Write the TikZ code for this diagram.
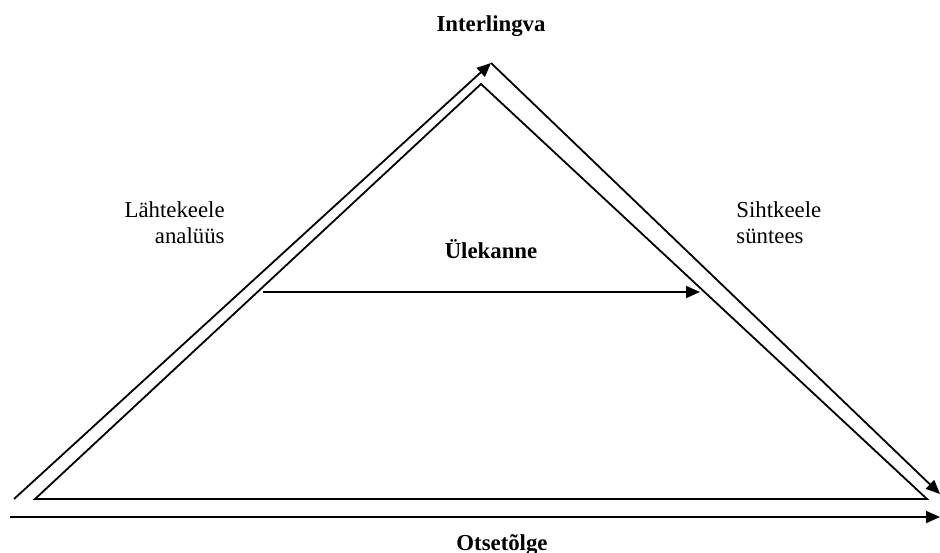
\documentclass[tikz,border=0pt]{standalone}
\usepackage{fontspec}
\setmainfont{Liberation Serif}
\usetikzlibrary{arrows.meta}
\tikzset{
  ln/.style={line width=0.9pt},
  arr/.style={ln, -{Triangle[length=7pt,width=6pt]}},
  lbl/.style={inner sep=0pt, font=\fontsize{11.4}{13.5}\selectfont},
  blbl/.style={lbl, font=\fontsize{11.4}{13.5}\selectfont\bfseries},
}
\begin{document}
\begin{tikzpicture}[x=0.5pt,y=-0.5pt]
\useasboundingbox (0,0) rectangle (940,552);
% outer path
\coordinate (oL) at (14,499);
\coordinate (oT) at (491,63);
\coordinate (oR) at (940,494);
% inner triangle
\coordinate (iL) at (35,499);
\coordinate (iT) at (481,84);
\coordinate (iR) at (927,499);
% bottom arrow
\coordinate (bS) at (10,517);
\coordinate (bE) at (940,517);
% middle arrow
\coordinate (mS) at (263,292);
\coordinate (mE) at (700,292);

\draw[arr] (oL) -- (oT);
\draw[arr] (oT) -- (oR);
\draw[ln, line join=miter] (iL) -- (iT) -- (iR) -- cycle;
\draw[arr] (bS) -- (bE);
\draw[arr] (mS) -- (mE);

\node[blbl, anchor=base] (inter) at (491,31) {Interlingva};
\node[blbl, anchor=base] (ule) at (491,258) {Ülekanne};
\node[blbl, anchor=base] (otse) at (502,550) {Otsetõlge};
\node[lbl, anchor=base east] (lah1) at (225,217) {Lähtekeele};
\node[lbl, anchor=base east] (lah2) at (225,243) {analüüs};
\node[lbl, anchor=base west] (siht1) at (736,217) {Sihtkeele};
\node[lbl, anchor=base west] (siht2) at (736,243) {süntees};
\end{tikzpicture}
\end{document}
